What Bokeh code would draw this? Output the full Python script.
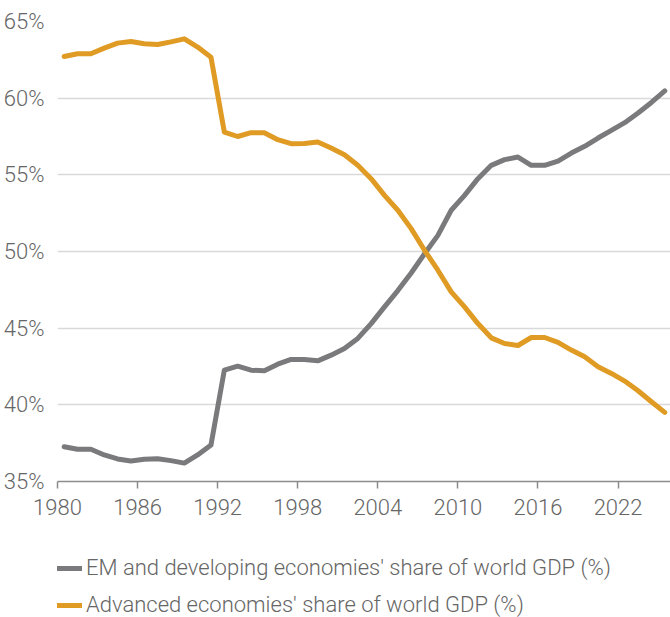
from bokeh.plotting import figure
from bokeh.models import Legend, LegendItem, FixedTicker, Range1d
from bokeh.layouts import column
from bokeh.embed import file_html
from bokeh.resources import INLINE

years = list(range(1980, 2026))
em_share = [37.27, 37.10, 37.10, 36.73, 36.47, 36.34, 36.45, 36.49, 36.36, 36.20,
            36.73, 37.38, 42.26, 42.52, 42.26, 42.22, 42.65, 42.96, 42.96, 42.87,
            43.24, 43.67, 44.33, 45.30, 46.39, 47.45, 48.60, 49.85, 51.05, 52.69,
            53.66, 54.75, 55.62, 55.99, 56.16, 55.62, 55.62, 55.90, 56.42, 56.86,
            57.40, 57.90, 58.40, 59.03, 59.72, 60.47]
adv_share = [62.72, 62.90, 62.90, 63.26, 63.59, 63.70, 63.55, 63.50, 63.67, 63.87,
             63.33, 62.67, 57.79, 57.50, 57.75, 57.75, 57.29, 57.03, 57.05, 57.14,
             56.75, 56.31, 55.62, 54.75, 53.66, 52.69, 51.49, 50.08, 48.78, 47.37,
             46.39, 45.30, 44.37, 44.00, 43.87, 44.39, 44.39, 44.07, 43.57, 43.13,
             42.48, 42.05, 41.55, 40.92, 40.20, 39.51]
x_ticks = [1980, 1986, 1992, 1998, 2004, 2010, 2016, 2022]
y_ticks = [35, 40, 45, 50, 55, 60, 65]
y_tick_labels = ["35%", "40%", "45%", "50%", "55%", "60%", "65%"]
series_names = ["EM and developing economies' share of world GDP (%)",
                "Advanced economies' share of world GDP (%)"]

FONT = "Roboto Light"
EM_COLOR = "#7a7a7c"
ADV_COLOR = "#df9b24"
TEXT_COLOR = "#666666"

# annual values plotted at mid-year
xs = [y + 0.5 for y in years]

p = figure(width=670, height=540, output_backend="svg", toolbar_location=None,
           x_range=Range1d(1980, 2025.93), y_range=Range1d(35, 65),
           min_border_left=50, min_border_right=0, min_border_top=21,
           min_border_bottom=59)
p.outline_line_color = None
p.background_fill_color = "white"
p.border_fill_color = "white"

line_style = dict(line_width=5, line_cap="round", line_join="round")
p.line(xs, em_share, line_color=EM_COLOR, **line_style)
p.line(xs, adv_share, line_color=ADV_COLOR, **line_style)

# x axis
xa = p.xaxis[0]
xa.ticker = FixedTicker(ticks=x_ticks)
xa.axis_line_color = "#8c8c8c"
xa.axis_line_width = 1.5
xa.major_tick_line_color = "#8c8c8c"
xa.major_tick_line_width = 1.5
xa.major_tick_out = 7
xa.major_tick_in = 0
xa.minor_tick_line_color = None
xa.major_label_text_font = FONT
xa.major_label_text_font_size = "22px"
xa.major_label_text_color = TEXT_COLOR
xa.major_label_standoff = 10

# y axis
ya = p.yaxis[0]
ya.ticker = FixedTicker(ticks=y_ticks)
ya.major_label_overrides = {t: l for t, l in zip(y_ticks, y_tick_labels)}
ya.axis_line_color = None
ya.major_tick_line_color = None
ya.minor_tick_line_color = None
ya.major_label_text_font = FONT
ya.major_label_text_font_size = "22px"
ya.major_label_text_color = TEXT_COLOR
ya.major_label_standoff = 7

p.xgrid.grid_line_color = None
p.ygrid.grid_line_color = "#d9d9d9"
p.ygrid.grid_line_width = 1.5

# legend in its own strip below the chart (keys only, drawn off-range)
lg = figure(width=670, height=77, output_backend="svg", toolbar_location=None,
            x_range=Range1d(0, 1), y_range=Range1d(0, 1),
            x_axis_type=None, y_axis_type=None,
            min_border_left=57, min_border_right=0, min_border_top=0,
            min_border_bottom=0)
lg.outline_line_color = None
lg.xgrid.grid_line_color = None
lg.ygrid.grid_line_color = None
k_em = lg.line([-5, -4], [-5, -4], line_color=EM_COLOR, **line_style)
k_adv = lg.line([-5, -4], [-5, -4], line_color=ADV_COLOR, **line_style)

legend = Legend(items=[LegendItem(label=series_names[0], renderers=[k_em]),
                       LegendItem(label=series_names[1], renderers=[k_adv])],
                orientation="vertical", location="bottom_left",
                border_line_color=None, background_fill_alpha=0,
                glyph_width=25, glyph_height=22, label_height=22,
                label_standoff=4, spacing=12, padding=0, margin=0,
                label_text_font=FONT, label_text_font_size="22px",
                label_text_color=TEXT_COLOR)
lg.add_layout(legend, "center")

layout = column(p, lg, spacing=0)
open("out.html", "w").write(file_html(layout, INLINE))
